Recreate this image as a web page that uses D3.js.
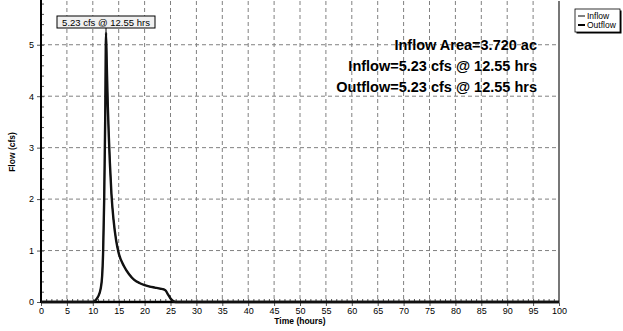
<!DOCTYPE html>
<html><head><meta charset="utf-8">
<script src="https://cdn.jsdelivr.net/npm/d3@7"></script>
<style>body{margin:0;background:#fff}svg{display:block}text{font-family:Arial,"Liberation Sans",sans-serif}</style>
</head><body><svg id="c" width="623" height="331"></svg>
<script>
const times = [0, 10.0, 10.5, 11.0, 11.5, 11.8, 12.0, 12.2, 12.4, 12.55, 12.7, 12.9, 13.1, 13.3, 13.6, 14.0, 14.5, 15.0, 16.0, 17.0, 18.0, 19.0, 20.0, 21.0, 22.0, 23.0, 24.0, 24.5, 25.0, 25.5, 26.0, 100];
const inflow = [0, 0, 0.03, 0.10, 0.25, 0.5, 1.0, 2.0, 3.6, 5.23, 4.6, 3.8, 3.2, 2.7, 2.1, 1.6, 1.2, 0.95, 0.70, 0.54, 0.43, 0.37, 0.33, 0.30, 0.28, 0.26, 0.23, 0.15, 0.07, 0.02, 0, 0];
const outflow = [0, 0, 0.03, 0.10, 0.25, 0.5, 1.0, 2.0, 3.6, 5.23, 4.6, 3.8, 3.2, 2.7, 2.1, 1.6, 1.2, 0.95, 0.70, 0.54, 0.43, 0.37, 0.33, 0.30, 0.28, 0.26, 0.23, 0.15, 0.07, 0.02, 0, 0];
const xTicks = [0,5,10,15,20,25,30,35,40,45,50,55,60,65,70,75,80,85,90,95,100];
const yTicks = [0,1,2,3,4,5];
const infoLines = ["Inflow Area=3.720 ac", "Inflow=5.23 cfs @ 12.55 hrs", "Outflow=5.23 cfs @ 12.55 hrs"];
const peakLabel = "5.23 cfs @ 12.55 hrs";
const peak = {t: 12.55, q: 5.23};
const seriesNames = ["Inflow", "Outflow"];

const svg = d3.select("#c");
const L = 41, R = 559, T = 1, B = 302;
const x = d3.scaleLinear().domain([0,100]).range([L,R]);
const y = d3.scaleLinear().domain([0,5.85]).range([B,T]);

// grid
const g = svg.append("g");
g.selectAll(".vx").data(xTicks.filter(d=>d>0&&d<100)).join("line")
  .attr("x1",d=>x(d)).attr("x2",d=>x(d)).attr("y1",T).attr("y2",B)
  .attr("stroke","#808080").attr("stroke-dasharray","4,3").attr("stroke-width",1);
g.selectAll(".hy").data(yTicks.filter(d=>d>0)).join("line")
  .attr("x1",L).attr("x2",R).attr("y1",d=>y(d)).attr("y2",d=>y(d))
  .attr("stroke","#808080").attr("stroke-dasharray","4,3").attr("stroke-width",1);

// x axis
const xAxis = d3.axisBottom(x).tickValues(xTicks).tickSize(4).tickFormat(d3.format("d"));
const xa = svg.append("g").attr("transform",`translate(0,${B})`).call(xAxis);
xa.select(".domain").remove();
xa.selectAll("line").attr("stroke","#555");
xa.selectAll("text").attr("font-size",9).attr("fill","#000").attr("dy","0.55em");
const xm = d3.axisTop(x).tickValues(d3.range(0,101,1)).tickSize(3).tickFormat("");
const xma = svg.append("g").attr("transform",`translate(0,${B})`).call(xm);
xma.select(".domain").remove(); xma.selectAll("line").attr("stroke","#555");

// y axis
const yAxis = d3.axisLeft(y).tickValues(yTicks).tickSize(4).tickFormat(d3.format("d"));
const ya = svg.append("g").attr("transform",`translate(${L},0)`).call(yAxis);
ya.select(".domain").remove();
ya.selectAll("line").attr("stroke","#555");
ya.selectAll("text").attr("font-size",9).attr("fill","#000");
const ym = d3.axisRight(y).tickValues(d3.range(0,5.81,0.2)).tickSize(3).tickFormat("");
const yma = svg.append("g").attr("transform",`translate(${L},0)`).call(ym);
yma.select(".domain").remove(); yma.selectAll("line").attr("stroke","#555");

// frame
svg.append("line").attr("x1",R).attr("x2",R).attr("y1",T).attr("y2",B+1).attr("stroke","#777").attr("stroke-width",2);
svg.append("line").attr("x1",L).attr("x2",L).attr("y1",T-1).attr("y2",B+1).attr("stroke","#000").attr("stroke-width",2);
svg.append("line").attr("x1",L).attr("x2",R).attr("y1",B).attr("y2",B).attr("stroke","#000").attr("stroke-width",2.5);

// series
const line = d3.line().x(d=>x(d[0])).y(d=>y(d[1])).curve(d3.curveMonotoneX);
svg.append("path").datum(times.map((t,i)=>[t,inflow[i]])).attr("d",line)
  .attr("fill","none").attr("stroke","#000").attr("stroke-width",1.2);
svg.append("path").datum(times.map((t,i)=>[t,outflow[i]])).attr("d",line)
  .attr("fill","none").attr("stroke","#111").attr("stroke-width",2.4);

// peak annotation
const bx = 57, bw = 98, by = 16, bh = 12;
svg.append("line").attr("x1",x(peak.t)).attr("x2",x(peak.t)).attr("y1",by+bh).attr("y2",y(peak.q))
  .attr("stroke","#000").attr("stroke-width",1);
svg.append("rect").attr("x",bx).attr("y",by).attr("width",bw).attr("height",bh)
  .attr("fill","#f0f0f0").attr("stroke","#000").attr("stroke-width",1);
svg.append("text").attr("x",bx+bw/2).attr("y",by+bh-2.5).attr("text-anchor","middle")
  .attr("font-size",9.5).text(peakLabel);

// info text
svg.selectAll(".info").data(infoLines).join("text")
  .attr("x",537).attr("y",(d,i)=>50+i*21).attr("text-anchor","end")
  .attr("font-size",14.5).attr("font-weight","bold").text(d=>d);

// axis titles
svg.append("text").attr("transform","translate(15,152) rotate(-90)").attr("text-anchor","middle")
  .attr("font-size",8.5).attr("font-weight","bold").text("Flow  (cfs)");
svg.append("text").attr("x",300).attr("y",324).attr("text-anchor","middle")
  .attr("font-size",8.5).attr("font-weight","bold").text("Time  (hours)");

// legend
const lx = 575, ly = 9;
svg.append("rect").attr("x",lx+1.5).attr("y",ly+1.5).attr("width",45).attr("height",23).attr("fill","#000");
svg.append("rect").attr("x",lx).attr("y",ly).attr("width",45).attr("height",23).attr("fill","#fff").attr("stroke","#000").attr("stroke-width",0.8);
seriesNames.forEach((n,i)=>{
  const yy = ly+7+i*9;
  svg.append("line").attr("x1",lx+3).attr("x2",lx+10).attr("y1",yy).attr("y2",yy).attr("stroke","#000").attr("stroke-width",i?2:1);
  svg.append("text").attr("x",lx+12).attr("y",yy+3).attr("font-size",8.5).text(n);
});
</script></body></html>
